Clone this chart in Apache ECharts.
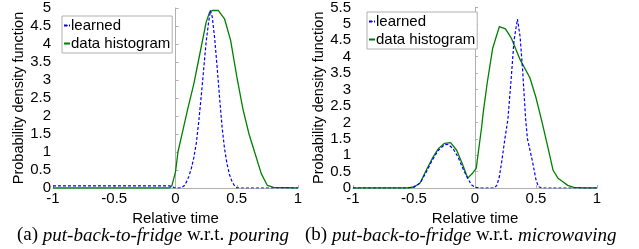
<!DOCTYPE html>
<html>
<head>
<meta charset="utf-8">
<script src="https://cdn.jsdelivr.net/npm/echarts@6/dist/echarts.min.js"></script>
<style>
  html, body { margin: 0; padding: 0; background: #fff; }
  #echart { width: 639px; height: 249px; }
</style>
</head>
<body>
<div id="echart"></div>
<script>
// (a) put-back-to-fridge w.r.t. pouring
var aLearnedX = [-1, -0.5, -0.05, -0.03, -0.01, 0.02, 0.05, 0.07, 0.09, 0.11, 0.13, 0.15, 0.17, 0.19, 0.21, 0.23, 0.25, 0.27, 0.285, 0.30, 0.32, 0.34, 0.36, 0.38, 0.40, 0.42, 0.44, 0.46, 0.48, 0.50, 0.52, 1];
var aLearnedY = [0.06, 0.06, 0.06, 0.04, 0.01, 0, 0.01, 0.06, 0.17, 0.33, 0.55, 0.85, 1.25, 1.85, 2.55, 3.3, 4.05, 4.6, 4.93, 4.75, 4.15, 3.35, 2.5, 1.7, 1.1, 0.68, 0.38, 0.19, 0.07, 0.01, 0, 0];
var aHistX = [-1, -0.5, -0.05, -0.03, 0, 0.02, 0.05, 0.1, 0.15, 0.2, 0.25, 0.28, 0.3, 0.35, 0.4, 0.45, 0.5, 0.55, 0.6, 0.65, 0.7, 0.75, 0.8, 1];
var aHistY = [0, 0, 0, 0.06, 0.45, 1.0, 1.45, 2.2, 2.9, 3.75, 4.6, 4.9, 4.93, 4.93, 4.7, 4.1, 3.1, 2.2, 1.5, 0.95, 0.4, 0.07, 0.02, 0];

// (b) put-back-to-fridge w.r.t. microwaving
var bLearnedX = [-1, -0.55, -0.5, -0.45, -0.4, -0.35, -0.3, -0.25, -0.22, -0.18, -0.14, -0.1, -0.06, -0.03, 0, 0.05, 0.16, 0.18, 0.2, 0.22, 0.245, 0.27, 0.3, 0.32, 0.348, 0.37, 0.39, 0.415, 0.43, 0.47, 0.5, 0.52, 0.55, 1];
var bLearnedY = [0, 0, 0.03, 0.15, 0.48, 0.85, 1.15, 1.32, 1.33, 1.2, 0.95, 0.6, 0.3, 0.1, 0.02, 0, 0, 0.09, 0.35, 0.83, 1.5, 2.1, 3.5, 4.5, 5.15, 4.6, 3.6, 2.1, 1.5, 0.83, 0.25, 0.04, 0, 0];
var bHistX = [-1, -0.55, -0.5, -0.45, -0.4, -0.35, -0.3, -0.25, -0.2, -0.15, -0.1, -0.06, -0.02, 0.01, 0.055, 0.068, 0.1, 0.145, 0.2, 0.25, 0.3, 0.37, 0.45, 0.5, 0.55, 0.6, 0.64, 0.68, 0.72, 0.76, 0.81, 0.9, 1];
var bHistY = [0, 0, 0.03, 0.15, 0.54, 0.9, 1.2, 1.36, 1.38, 1.15, 0.7, 0.3, 0.45, 0.6, 1.875, 2.32, 3.2, 4.26, 4.92, 4.85, 4.55, 3.91, 3.36, 2.75, 2.0, 1.2, 0.54, 0.3, 0.19, 0.08, 0.02, 0, 0];

var seriesNames = ['learned', 'data histogram'];

function zip(xs, ys) {
    return xs.map(function (x, i) { return [x, ys[i]]; });
}

var chartDom = document.getElementById('echart');
var myChart = echarts.init(chartDom);

var axisFont = { fontFamily: 'Liberation Sans', fontSize: 15, color: '#000' };
var axisLine = { show: true, lineStyle: { color: '#b0b0b0', width: 1 } };
var axisTick = { show: true, inside: true, length: 3, lineStyle: { color: '#b0b0b0' } };

function xAxisFor(idx) {
    return {
        type: 'value', gridIndex: idx, min: -1, max: 1, interval: 0.5,
        name: 'Relative time', nameLocation: 'middle', nameGap: 19,
        nameTextStyle: axisFont,
        axisLine: axisLine, axisTick: axisTick,
        axisLabel: Object.assign({ margin: 3 }, axisFont),
        splitLine: { show: false }
    };
}
function yAxisFor(idx, max) {
    return {
        type: 'value', gridIndex: idx, min: 0, max: max, interval: 0.5,
        name: 'Probability density function', nameLocation: 'middle', nameGap: 24,
        nameTextStyle: Object.assign({}, axisFont, { fontSize: 14.5 }),
        axisLine: axisLine, axisTick: axisTick,
        axisLabel: Object.assign({ margin: 2 }, axisFont),
        splitLine: { show: false }
    };
}

var learnedStyle = { color: '#0000ff', width: 1.2, type: [3, 2] };
var histStyle = { color: '#008000', width: 1.3 };

function legendAt(left, top) {
    return {
        orient: 'vertical', left: left, top: top,
        data: seriesNames,
        backgroundColor: '#fff', borderColor: '#b0b0b0', borderWidth: 1,
        padding: [2, 2, 2, 1], itemGap: 3, itemWidth: 6, itemHeight: 2,
        textStyle: { fontFamily: 'Liberation Sans', fontSize: 15, color: '#000', padding: [0, 0, 0, -4] }
    };
}

var captionRich = {
    r: { fontFamily: 'Liberation Serif', fontSize: 19, color: '#000', fontWeight: 'normal' },
    i: { fontFamily: 'Liberation Serif', fontSize: 19, color: '#000', fontWeight: 'normal', fontStyle: 'italic' }
};

var option = {
    animation: false,
    title: [
        { left: 17, top: 226, padding: 0, text: '{r|(a) }{i|put-back-to-fridge}{r| w.r.t. }{i|pouring}', textStyle: { fontWeight: 'normal', rich: captionRich } },
        { left: 305, top: 226, padding: 0, text: '{r|(b) }{i|put-back-to-fridge}{r| w.r.t. }{i|microwaving}', textStyle: { fontWeight: 'normal', rich: captionRich } }
    ],
    legend: [legendAt(62, 16), legendAt(367, 12)],
    grid: [
        { left: 53, right: 341, top: 8, bottom: 61 },
        { left: 353, right: 42, top: 3, bottom: 61 }
    ],
    xAxis: [xAxisFor(0), xAxisFor(1)],
    yAxis: [yAxisFor(0, 5), yAxisFor(1, 5.5)],
    series: [
        { name: 'learned', type: 'line', xAxisIndex: 0, yAxisIndex: 0, data: zip(aLearnedX, aLearnedY), symbol: 'none', lineStyle: learnedStyle, itemStyle: { color: '#0000ff' }, z: 3 },
        { name: 'data histogram', type: 'line', xAxisIndex: 0, yAxisIndex: 0, data: zip(aHistX, aHistY), symbol: 'none', lineStyle: histStyle, itemStyle: { color: '#008000' }, z: 2 },
        { name: 'learned', type: 'line', xAxisIndex: 1, yAxisIndex: 1, data: zip(bLearnedX, bLearnedY), symbol: 'none', lineStyle: learnedStyle, itemStyle: { color: '#0000ff' }, z: 3 },
        { name: 'data histogram', type: 'line', xAxisIndex: 1, yAxisIndex: 1, data: zip(bHistX, bHistY), symbol: 'none', lineStyle: histStyle, itemStyle: { color: '#008000' }, z: 2 }
    ]
};

myChart.setOption(option);

window.addEventListener('resize', function () {
    myChart.resize();
});
</script>
</body>
</html>
